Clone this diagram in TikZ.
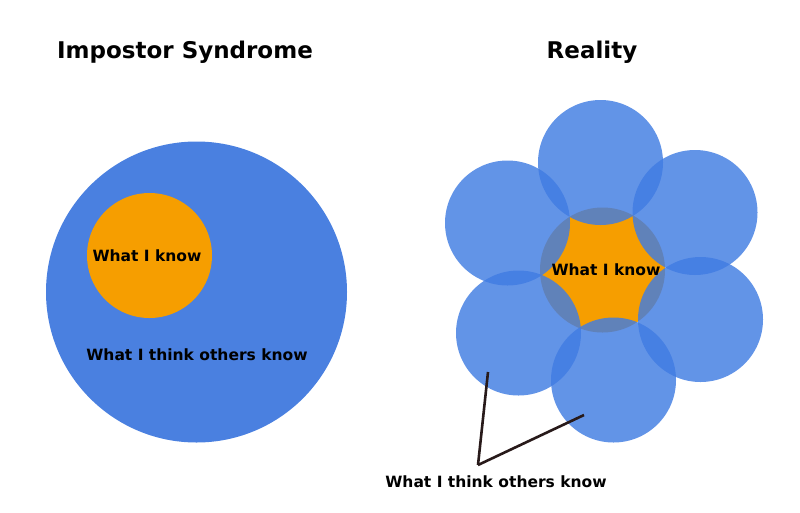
\documentclass[tikz,border=0pt]{standalone}
\usepackage{fontspec}
\setmainfont{DejaVu Sans}
\definecolor{bigblue}{RGB}{74,128,224}
\definecolor{petalblue}{RGB}{64,124,226}
\definecolor{knoworange}{RGB}{246,158,0}
\definecolor{linebrown}{RGB}{40,26,26}
\tikzset{
        heading/.style={font=\bfseries\fontsize{23}{27}\selectfont},
        txt/.style={font=\bfseries\fontsize{15.5}{18}\selectfont},
        disc/.style={circle, inner sep=0, minimum size=#1},
        petal/.style={disc=125pt, fill=petalblue, fill opacity=0.82}
}
\begin{document}
\begin{tikzpicture}[x=1pt, y=-1pt]
        \useasboundingbox (0,0) rectangle (800,512);
        \node[heading] (LeftTitle) at (185, 52) {Impostor Syndrome};
        \node[heading] (RightTitle) at (592, 52) {Reality};
        \node[disc=301pt, fill=bigblue] (Big) at (196.5, 292) {};
        \node[disc=125pt, fill=knoworange] (Know) at (149.5, 255.5) {};
        \node[txt] (KnowText) at (147, 256) {What I know};
        \node[txt] (OthersText) at (197, 355) {What I think others know};
        \node[disc=125pt, fill=knoworange] (Core) at (602.5, 270) {};
        \node[petal] (PTop) at (600.5, 162.5) {};
        \node[petal] (PUpLeft) at (507.5, 223) {};
        \node[petal] (PUpRight) at (695, 212.5) {};
        \node[petal] (PLowLeft) at (518.5, 333) {};
        \node[petal] (PLowRight) at (700.5, 319.5) {};
        \node[petal] (PBottom) at (613.5, 380) {};
        \node[txt] (CoreText) at (606, 270) {What I know};
        \node[txt] (Others) at (496, 482) {What I think others know};
        \coordinate (EndA) at (488, 372);
        \coordinate (EndB) at (584, 415);
        \coordinate (Meet) at (478, 465);
        \draw[linebrown, line width=2.6pt] (EndA) -- (Meet);
        \draw[linebrown, line width=2.6pt] (Meet) -- (EndB);
    \end{tikzpicture}
\end{document}
